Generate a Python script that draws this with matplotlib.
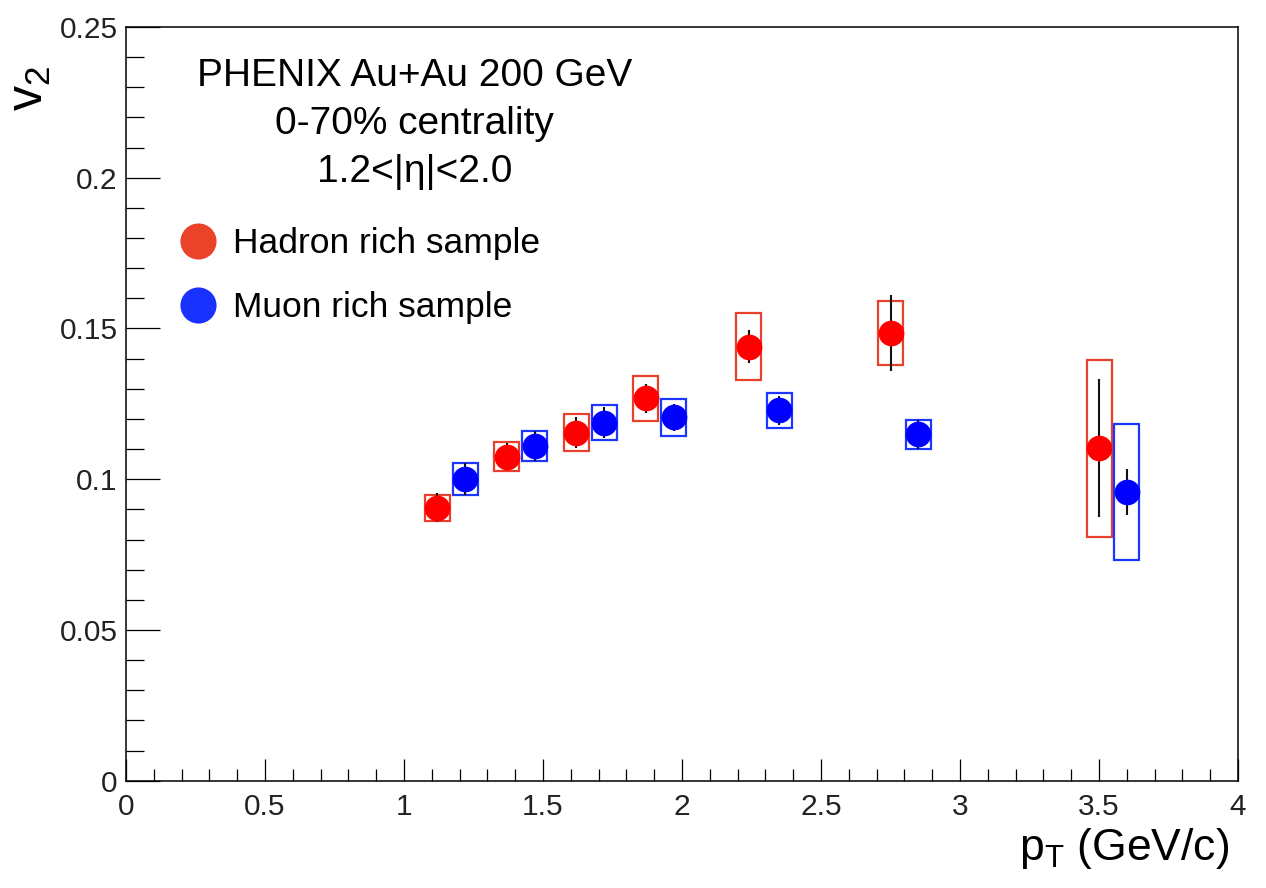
import matplotlib
matplotlib.use("Agg")
import matplotlib.pyplot as plt
from matplotlib.patches import Rectangle
from matplotlib.lines import Line2D
from matplotlib.ticker import MultipleLocator

plt.rcParams['font.family'] = ['Liberation Sans', 'DejaVu Sans']
plt.rcParams['mathtext.fontset'] = 'custom'
plt.rcParams['mathtext.rm'] = 'Liberation Sans'
plt.rcParams['mathtext.it'] = 'Liberation Sans'

# hadron rich sample
had_pt = [1.12, 1.37, 1.62, 1.87, 2.24, 2.75, 3.50]
had_v2 = [0.0906, 0.1075, 0.1155, 0.1268, 0.1440, 0.1485, 0.1103]
had_stat = [0.0048, 0.0046, 0.0050, 0.0048, 0.0054, 0.0125, 0.0228]
had_sys = [0.0043, 0.0049, 0.0061, 0.0075, 0.0112, 0.0107, 0.0293]

# muon rich sample
muo_pt = [1.22, 1.47, 1.72, 1.97, 2.35, 2.85, 3.60]
muo_v2 = [0.1001, 0.1109, 0.1188, 0.1205, 0.1228, 0.1149, 0.0958]
muo_stat = [0.0054, 0.0050, 0.0050, 0.0045, 0.0049, 0.0048, 0.0077]
muo_sys = [0.0053, 0.0050, 0.0059, 0.0060, 0.0059, 0.0049, 0.0226]

box_dx = 0.045

fig = plt.figure(figsize=(12.66, 8.88), dpi=100)
ax = fig.add_axes([0.0995, 0.1208, 0.8784, 0.8488])

def draw_series(pt, v2, stat, sys, col, boxcol):
    # systematic boxes
    for x, y, s in zip(pt, v2, sys):
        ax.add_patch(Rectangle((x - box_dx, y - s), 2 * box_dx, 2 * s,
                               fill=False, edgecolor=boxcol, lw=1.6, zorder=2))
    # statistical errors
    ax.errorbar(pt, v2, yerr=stat, fmt='none', ecolor='#111111',
                elinewidth=1.5, capsize=0, zorder=3)
    ax.plot(pt, v2, 'o', color=col, markersize=18.5, markeredgewidth=0, zorder=4)

draw_series(had_pt, had_v2, had_stat, had_sys, '#FF0000', '#E8402A')
draw_series(muo_pt, muo_v2, muo_stat, muo_sys, '#0000FF', '#1C35FF')

ax.set_xlim(0, 4)
ax.set_ylim(0, 0.25)
ax.xaxis.set_major_locator(MultipleLocator(0.5))
ax.xaxis.set_minor_locator(MultipleLocator(0.1))
ax.yaxis.set_major_locator(MultipleLocator(0.05))
ax.yaxis.set_minor_locator(MultipleLocator(0.01))
ax.set_xticks([0, 0.5, 1, 1.5, 2, 2.5, 3, 3.5, 4])
ax.set_xticklabels(['0', '0.5', '1', '1.5', '2', '2.5', '3', '3.5', '4'])
ax.set_yticks([0, 0.05, 0.1, 0.15, 0.2, 0.25])
ax.set_yticklabels(['0', '0.05', '0.1', '0.15', '0.2', '0.25'])

ax.tick_params(axis='both', which='both', direction='in', top=False, right=False,
               labelsize=21.5, width=0.9, colors='black', labelcolor='#222222')
ax.tick_params(axis='x', which='major', length=16, pad=9)
ax.tick_params(axis='x', which='minor', length=8.5)
ax.tick_params(axis='y', which='major', length=24.5, pad=6)
ax.tick_params(axis='y', which='minor', length=13)
for sp in ax.spines.values():
    sp.set_linewidth(1.1)

ax.text(0.2593, 0.935, 'PHENIX Au+Au 200 GeV', transform=ax.transAxes,
        ha='center', va='center', fontsize=28)
ax.text(0.2593, 0.871, '0-70% centrality', transform=ax.transAxes,
        ha='center', va='center', fontsize=28)
ax.text(0.2593, 0.807, '1.2<|η|<2.0', transform=ax.transAxes,
        ha='center', va='center', fontsize=28)

handles = [Line2D([], [], ls='none', marker='o', color='#EA432A', markersize=26, markeredgewidth=0),
           Line2D([], [], ls='none', marker='o', color='#1A32FF', markersize=26, markeredgewidth=0)]
ax.legend(handles, ['Hadron rich sample', 'Muon rich sample'], loc='upper left',
          bbox_to_anchor=(0.0486, 0.734), frameon=False, fontsize=25.5,
          handlelength=1.0, handletextpad=0.5, labelspacing=0.87,
          borderpad=0, borderaxespad=0)

fig.text(0.0237, 0.90, r'v$_2$', rotation=90, ha='center', va='center', fontsize=36)
fig.text(0.971, 0.045, r'p$_\mathrm{T}$ (GeV/c)', ha='right', va='center', fontsize=32)

fig.savefig('out.png', dpi=100)
